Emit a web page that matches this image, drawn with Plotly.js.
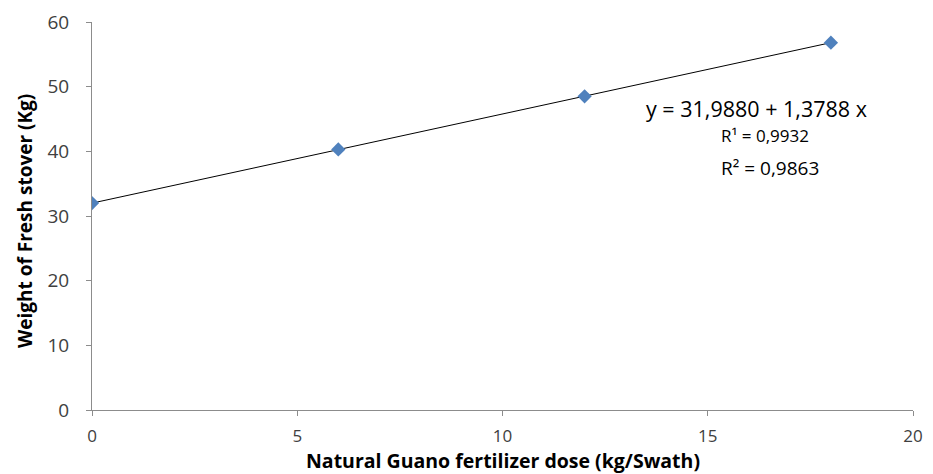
<!DOCTYPE html>
<html>
<head>
<meta charset="utf-8">
<script src="https://cdn.plot.ly/plotly-3.0.1.min.js"></script>
<style>html,body{margin:0;padding:0;background:#fff;}#chart{width:933px;height:474px;}</style>
</head>
<body>
<div id="chart"></div>
<script>
const doseX = [0, 6, 12, 18];
const stoverY = [32.0, 40.3, 48.5, 56.8];
const fitIntercept = 31.9880;
const fitSlope = 1.3788;
const fitX = [0, 18];
const fitY = fitX.map(x => fitIntercept + fitSlope * x);
const eqLines = ["y = 31,9880 + 1,3788 x", "R¹ = 0,9932", "R² = 0,9863"];
const xTicks = [0, 5, 10, 15, 20];
const yTicks = [0, 10, 20, 30, 40, 50, 60];
const xTitle = 'Natural Guano fertilizer dose (kg/Swath)';
const yTitle = 'Weight of Fresh stover (Kg)';

const font = "Open Sans, Lato, sans-serif";
const data = [
  {x: fitX, y: fitY, mode: 'lines', line: {color: '#000', width: 1}, hoverinfo: 'skip', showlegend: false},
  {x: doseX, y: stoverY, mode: 'markers', marker: {symbol: 'diamond', size: 11, color: '#4F81BD'}, showlegend: false}
];
const layout = {
  width: 933, height: 474,
  margin: {l: 92, r: 20, t: 22, b: 64},
  paper_bgcolor: '#fff', plot_bgcolor: '#fff',
  font: {family: font, color: '#404040', size: 18},
  xaxis: {range: [0, 20], tickvals: xTicks, showgrid: false, zeroline: false,
    showline: true, linecolor: '#8c8c8c', linewidth: 1, ticks: 'outside', ticklen: 5, tickcolor: '#8c8c8c',
    tickfont: {size: 17, color: '#404040'}, ticklabelstandoff: 6},
  yaxis: {range: [0, 60], tickvals: yTicks, showgrid: false, zeroline: false,
    showline: true, linecolor: '#8c8c8c', linewidth: 1, ticks: 'outside', ticklen: 5, tickcolor: '#8c8c8c',
    tickfont: {size: 19, color: '#404040'}, ticklabelstandoff: 13},
  annotations: [
    {xref: 'x', yref: 'y', x: 16.18, y: 46.7, text: eqLines[0], showarrow: false, font: {size: 21.5, color: '#000', family: font}},
    {xref: 'x', yref: 'y', x: 16.39, y: 42.5, text: eqLines[1], showarrow: false, font: {size: 17, color: '#000', family: font}},
    {xref: 'x', yref: 'y', x: 16.52, y: 37.4, text: eqLines[2], showarrow: false, font: {size: 19, color: '#000', family: font}},
    {xref: 'paper', yref: 'paper', x: 0.501, y: -0.13, xanchor: 'center', yanchor: 'middle', text: '<b>' + xTitle + '</b>', showarrow: false, font: {size: 19.5, color: '#000', family: font}},
    {xref: 'paper', yref: 'paper', x: -0.0816, y: 0.487, xanchor: 'center', yanchor: 'middle', textangle: -90, text: '<b>' + yTitle + '</b>', showarrow: false, font: {size: 19, color: '#000', family: font}}
  ]
};
Plotly.newPlot('chart', data, layout, {displayModeBar: false, staticPlot: true});
</script>
</body>
</html>
